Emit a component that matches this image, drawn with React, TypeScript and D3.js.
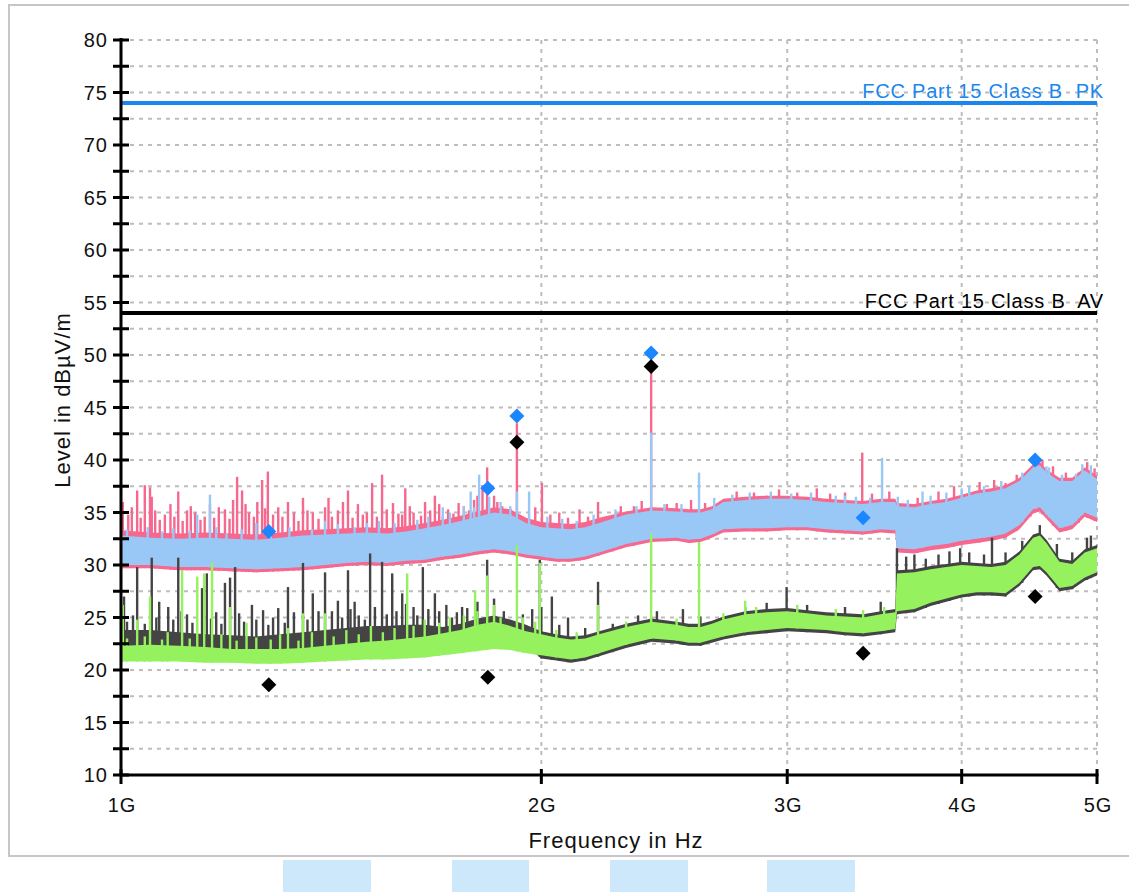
import React from "react";
import * as d3 from "d3";

// ---- data (frequency in GHz, level in dBµV/m) ----
const FREQ_GHZ = [
  1.0, 1.05, 1.1, 1.15, 1.2, 1.25, 1.3, 1.35, 1.4, 1.45, 1.5, 1.55, 1.6, 1.65, 1.7, 1.75, 1.8, 1.85, 1.9, 1.95, 2.0, 2.05, 2.1, 2.15, 2.2,
  2.3, 2.4, 2.5, 2.55, 2.6, 2.65, 2.7,
  2.8, 2.9, 3.0, 3.1, 3.2, 3.3, 3.4, 3.5,
  3.585, 3.595,
  3.7, 3.8, 3.9, 4.0, 4.1, 4.2, 4.3, 4.4,
  4.5, 4.55, 4.6, 4.7, 4.8, 4.9, 5.0,
];

// Peak trace 1 (pink) envelope
const PINK_LOW = [
  29.7, 29.7, 29.5, 29.5, 29.4, 29.3, 29.4, 29.5, 29.7, 29.9, 30.0, 29.9, 30.1, 30.2, 30.5, 30.7, 31.0, 31.2, 31.0, 30.7, 30.5, 30.3, 30.3, 30.5, 30.9,
  31.7, 32.2, 32.3, 32.1, 32.2, 32.6, 33.1,
  33.2, 33.2, 33.3, 33.3, 33.1, 33.0, 32.9, 33.1,
  33.0, 31.2,
  31.1, 31.4, 31.6, 31.9, 32.1, 32.3, 32.6, 33.4,
  34.9, 35.1, 34.4, 33.1, 33.4, 34.6, 34.1,
];
const PINK_HIGH = [
  33.3, 33.1, 33.0, 33.1, 33.0, 32.9, 33.1, 33.3, 33.4, 33.5, 33.6, 33.5, 33.7, 34.0, 34.3, 34.7, 35.1, 35.5, 35.3, 34.5, 34.1, 34.0, 33.9, 34.1, 34.5,
  35.1, 35.5, 35.4, 35.3, 35.3, 35.6, 36.3,
  36.5, 36.6, 36.6, 36.5, 36.3, 36.2, 36.1, 36.3,
  36.3, 35.9,
  35.8, 36.1, 36.3, 36.7, 37.1, 37.3, 37.6, 38.3,
  39.6, 39.8, 39.1, 38.3, 38.3, 39.3, 38.5,
];
// Peak trace 2 (light blue) envelope
const BLUE_LOW = [
  30.0, 30.0, 29.8, 29.8, 29.7, 29.6, 29.7, 29.8, 30.0, 30.2, 30.3, 30.2, 30.4, 30.5, 30.8, 31.0, 31.3, 31.5, 31.3, 31.0, 30.8, 30.6, 30.6, 30.8, 31.2,
  32.0, 32.5, 32.6, 32.4, 32.5, 32.9, 33.4,
  33.5, 33.5, 33.6, 33.6, 33.4, 33.3, 33.2, 33.4,
  33.3, 31.6,
  31.5, 31.8, 32.0, 32.3, 32.5, 32.7, 33.0, 33.8,
  35.3, 35.5, 34.8, 33.5, 33.8, 35.0, 34.5,
];
const BLUE_HIGH = [
  32.8, 32.6, 32.5, 32.6, 32.5, 32.4, 32.6, 32.8, 32.9, 33.0, 33.1, 33.0, 33.2, 33.5, 33.8, 34.2, 34.6, 35.0, 34.8, 34.0, 33.6, 33.5, 33.4, 33.6, 34.0,
  34.8, 35.2, 35.1, 35.0, 35.0, 35.3, 36.0,
  36.2, 36.3, 36.3, 36.2, 36.0, 35.9, 35.8, 36.0,
  36.0, 35.6,
  35.5, 35.8, 36.0, 36.4, 36.8, 37.0, 37.3, 38.0,
  39.3, 39.5, 38.8, 38.0, 38.0, 39.0, 38.2,
];
// Average trace 1 (dark grey) envelope
const GRAY_LOW = [
  21.6, 21.6, 21.6, 21.6, 21.5, 21.4, 21.5, 21.6, 21.8, 22.0, 22.0, 22.0, 22.2, 22.3, 22.5, 22.6, 22.8, 22.8, 22.6, 22.4, 21.1, 20.9, 20.7, 20.9, 21.3,
  22.1, 22.7, 22.5, 22.3, 22.3, 22.6, 22.9,
  23.3, 23.5, 23.7, 23.6, 23.5, 23.3, 23.2, 23.4,
  23.6, 25.3,
  25.5, 26.1, 26.5, 26.9, 27.1, 27.1, 27.0, 28.0,
  29.5, 29.6, 29.0, 27.5, 27.7, 28.5, 29.0,
];
const GRAY_HIGH = [
  23.8, 23.8, 23.6, 23.4, 23.3, 23.2, 23.4, 23.6, 23.8, 24.0, 24.2, 24.2, 24.3, 24.3, 24.1, 24.4, 24.9, 25.2, 24.8, 24.3, 23.7, 23.4, 23.2, 23.3, 23.7,
  24.4, 24.9, 24.6, 24.4, 24.4, 24.7, 25.1,
  25.6, 25.8, 25.9, 25.7, 25.5, 25.4, 25.3, 25.6,
  25.8, 29.5,
  29.6, 29.9, 30.1, 30.3, 30.2, 30.1, 30.3, 31.3,
  32.9, 33.1, 32.4, 30.6, 30.4, 31.5, 31.9,
];
// Average trace 2 (green) envelope
const GREEN_LOW = [
  20.8, 20.8, 20.8, 20.7, 20.7, 20.6, 20.6, 20.7, 20.8, 20.9, 21.0, 21.0, 21.1, 21.2, 21.4, 21.6, 21.8, 22.0, 21.9, 21.6, 21.4, 21.2, 21.0, 21.2, 21.6,
  22.4, 23.0, 22.8, 22.6, 22.6, 22.9, 23.2,
  23.6, 23.8, 24.0, 23.9, 23.8, 23.6, 23.5, 23.7,
  23.9, 25.6,
  25.8, 26.4, 26.8, 27.2, 27.4, 27.4, 27.3, 28.3,
  29.8, 29.9, 29.3, 27.8, 28.0, 28.8, 29.3,
];
const GREEN_HIGH = [
  22.3, 22.4, 22.3, 22.2, 22.0, 22.0, 22.0, 22.1, 22.3, 22.5, 22.7, 22.8, 23.0, 23.2, 23.5, 23.8, 24.3, 24.6, 24.2, 23.7, 23.4, 23.1, 22.9, 23.0, 23.4,
  24.1, 24.6, 24.3, 24.1, 24.1, 24.4, 24.8,
  25.3, 25.5, 25.6, 25.4, 25.2, 25.1, 25.0, 25.3,
  25.5, 29.2,
  29.3, 29.6, 29.8, 30.0, 29.9, 29.8, 30.0, 31.0,
  32.6, 32.8, 32.1, 30.3, 30.1, 31.2, 31.6,
];

// Narrow peaks above the envelopes: [frequency GHz, level]
const PINK_SPIKES: [number, number][] = [
  [1.003, 36.0], [1.027, 37.1], [1.04, 37.6], [1.049, 37.4], [1.052, 36.5], [1.075, 34.8], [1.099, 37.0], [1.115, 35.2],
  [1.13, 35.0], [1.148, 34.6], [1.175, 35.5], [1.187, 35.3], [1.211, 38.4], [1.221, 37.1], [1.235, 35.0], [1.262, 38.1],
  [1.274, 38.9], [1.285, 34.8], [1.296, 35.5], [1.317, 36.0], [1.35, 36.4], [1.372, 35.0], [1.4, 35.5], [1.416, 34.6],
  [1.442, 36.0], [1.454, 37.1], [1.478, 35.8], [1.49, 34.8], [1.513, 37.8], [1.538, 38.6], [1.566, 35.9], [1.58, 34.9],
  [1.598, 37.3], [1.62, 35.0], [1.651, 36.0], [1.678, 36.6], [1.7, 34.6], [1.76, 35.6], [1.8, 36.6], [1.829, 39.3],
  [1.86, 36.0], [1.921, 43.5], [1.98, 35.5], [2.002, 37.8], [2.06, 35.0], [2.196, 36.0], [2.25, 34.6], [2.397, 48.6],
  [2.46, 35.8], [2.9, 36.6], [3.395, 40.7], [4.3, 37.8], [4.48, 38.9], [4.85, 38.8],
  [1.012, 34.8], [1.018, 35.5], [1.033, 34.5], [1.058, 35.2], [1.066, 34.3], [1.085, 35.8], [1.092, 34.6], [1.107, 34.2],
  [1.122, 35.6], [1.14, 34.3], [1.158, 35.8], [1.166, 34.5], [1.196, 34.4], [1.203, 36.2], [1.228, 35.8], [1.245, 34.6],
  [1.252, 36.0], [1.268, 35.4], [1.305, 34.6], [1.33, 35.0], [1.34, 34.2], [1.36, 35.2], [1.385, 34.4], [1.408, 36.4],
  [1.43, 35.2], [1.465, 34.5], [1.5, 35.0], [1.525, 34.6], [1.55, 35.3], [1.59, 34.8], [1.61, 35.6], [1.64, 34.7],
  [1.665, 35.2], [1.69, 35.8], [1.715, 35.3], [1.73, 34.9], [1.745, 35.9], [1.775, 35.2], [1.79, 36.2], [1.815, 37.6],
  [1.85, 36.6], [1.875, 35.6], [1.9, 35.4],
  [2.03, 34.8], [2.09, 34.5], [2.13, 35.3], [2.16, 34.6], [2.28, 35.6], [2.33, 35.6], [2.36, 36.1], [2.5, 35.9],
  [2.56, 36.2], [2.62, 35.9], [2.76, 37.0], [2.84, 36.9], [2.96, 37.2], [3.05, 36.9], [3.15, 37.3], [3.22, 36.8],
  [3.3, 36.9], [3.45, 36.8], [3.55, 37.0], [3.72, 36.4], [3.85, 37.0], [3.95, 37.5], [4.12, 37.9], [4.22, 38.1],
  [4.38, 38.6], [4.57, 40.0], [4.65, 39.4], [4.75, 38.8], [4.92, 39.8], [4.98, 39.2],
];
const BLUE_SPIKES: [number, number][] = [
  [1.134, 34.8], [1.158, 36.7], [1.25, 34.0], [1.4, 34.2], [1.5, 34.0], [1.7, 35.5], [1.78, 37.0], [1.805, 38.6],
  [1.835, 36.5], [1.921, 37.0], [1.96, 37.0], [2.397, 42.6], [2.594, 38.8], [3.3, 36.6], [3.508, 40.2], [3.75, 37.0],
  [4.05, 37.5], [4.6, 39.4], [4.95, 39.5],
  [1.01, 33.4], [1.045, 33.6], [1.07, 33.2], [1.09, 33.5], [1.12, 33.3], [1.17, 33.6], [1.19, 33.0], [1.22, 33.4],
  [1.28, 33.5], [1.32, 33.6], [1.37, 33.4], [1.43, 33.9], [1.47, 33.6], [1.53, 34.2], [1.57, 34.0], [1.63, 34.3],
  [1.66, 34.6], [1.72, 35.0], [1.76, 35.6], [1.79, 35.5], [1.87, 36.0], [1.9, 35.6], [2.02, 34.6], [2.07, 34.4],
  [2.12, 34.2], [2.18, 34.8], [2.26, 35.3], [2.34, 35.6], [2.45, 35.8], [2.52, 35.8], [2.66, 36.4], [2.74, 36.7],
  [2.82, 36.9], [2.92, 37.0], [3.02, 36.8], [3.12, 36.9], [3.25, 36.6], [3.36, 36.5], [3.44, 36.4], [3.6, 36.5],
  [3.66, 36.2], [3.8, 36.6], [3.9, 36.9], [4.0, 37.3], [4.15, 37.5], [4.27, 38.0], [4.42, 38.8], [4.52, 40.0],
  [4.62, 39.3], [4.72, 38.6], [4.83, 38.7], [4.88, 39.6],
];
const GRAY_SPIKES: [number, number][] = [
  [1.005, 27.0], [1.027, 29.8], [1.052, 30.7], [1.065, 26.5], [1.081, 26.0], [1.099, 30.7], [1.115, 25.3], [1.143, 27.8],
  [1.152, 29.2], [1.17, 25.5], [1.187, 28.3], [1.197, 28.8], [1.207, 29.8], [1.241, 26.2], [1.264, 25.7], [1.296, 25.9],
  [1.317, 27.9], [1.35, 30.2], [1.372, 27.3], [1.4, 29.3], [1.416, 25.6], [1.43, 26.6], [1.454, 29.5], [1.47, 26.5],
  [1.508, 31.1], [1.538, 30.3], [1.564, 29.2], [1.59, 27.3], [1.62, 26.0], [1.645, 29.8], [1.678, 27.3], [1.726, 25.0],
  [1.755, 26.0], [1.829, 30.5], [1.995, 30.5], [2.035, 27.0], [2.09, 25.0], [2.196, 28.4], [2.346, 25.2], [2.526, 25.8],
  [2.799, 26.0], [2.997, 27.9], [3.595, 31.6], [3.99, 31.6], [4.205, 32.6], [4.918, 32.6],
  [1.01, 24.6], [1.02, 25.2], [1.04, 24.4], [1.06, 25.0], [1.09, 24.8], [1.105, 25.6], [1.125, 24.5], [1.16, 24.9],
  [1.18, 24.4], [1.215, 25.4], [1.225, 24.6], [1.25, 24.8], [1.275, 24.3], [1.285, 25.0], [1.31, 24.5], [1.33, 25.5],
  [1.36, 24.8], [1.385, 25.6], [1.44, 25.0], [1.46, 25.8], [1.48, 25.2], [1.495, 24.8], [1.52, 26.0], [1.55, 25.3],
  [1.575, 25.6], [1.6, 26.3], [1.63, 25.2], [1.66, 25.8], [1.69, 25.6], [1.71, 26.2], [1.74, 25.5], [1.77, 25.9],
  [1.8, 26.5], [1.85, 26.8], [1.88, 25.6], [1.94, 25.3], [1.97, 25.8], [2.0, 26.0], [2.06, 24.3],
  [2.15, 24.0], [2.25, 24.4], [2.42, 25.6], [2.6, 25.1], [2.9, 26.4], [3.1, 26.2], [3.3, 26.0], [3.5, 26.5],
  [3.65, 30.8], [3.7, 31.0], [3.77, 30.6], [3.85, 31.0], [3.92, 31.3], [4.05, 31.2], [4.15, 31.0], [4.3, 31.2],
  [4.42, 32.3], [4.55, 33.8], [4.68, 32.0], [4.8, 31.2], [4.95, 32.8],
];
const GREEN_SPIKES: [number, number][] = [
  [1.003, 26.2], [1.027, 24.8], [1.049, 27.0], [1.106, 29.5], [1.134, 28.9], [1.147, 29.2], [1.162, 30.2], [1.197, 26.0],
  [1.23, 24.5], [1.317, 24.0], [1.35, 25.4], [1.4, 25.4], [1.603, 29.2], [1.793, 27.6], [1.829, 29.0], [1.921, 31.9],
  [1.995, 30.2], [2.196, 26.2], [2.397, 33.0], [2.594, 32.2], [2.799, 26.6],
  [1.01, 23.0], [1.04, 23.2], [1.07, 22.9], [1.08, 23.6], [1.12, 23.0], [1.18, 23.4], [1.21, 22.8], [1.25, 23.1],
  [1.28, 22.9], [1.3, 23.4], [1.34, 22.8], [1.37, 23.6], [1.42, 23.2], [1.45, 23.8], [1.48, 23.4], [1.51, 24.2],
  [1.54, 23.6], [1.57, 24.0], [1.62, 24.2], [1.65, 24.8], [1.69, 24.5], [1.72, 25.0], [1.76, 25.2], [1.8, 25.6],
  [1.85, 26.2], [1.87, 25.0], [1.94, 25.0], [1.98, 24.6], [2.05, 23.8], [2.12, 23.6], [2.3, 24.6], [2.5, 24.9],
  [2.7, 25.4], [2.85, 26.0], [3.05, 26.2], [3.25, 25.8], [3.4, 25.7], [3.52, 26.0],
];

// Final measurement markers
const MARK_FREQ_GHZ = [1.276, 1.831, 1.921, 2.397, 3.4, 4.515];
const MARK_PK = [33.2, 37.3, 44.2, 50.2, 34.5, 40.0];
const MARK_AV = [18.6, 19.3, 41.7, 48.9, 21.6, 27.0];

// Limits
const LIMIT_PK = 74;
const LIMIT_AV = 54;
const LIMIT_PK_LABEL = "FCC Part 15 Class B  PK";
const LIMIT_AV_LABEL = "FCC Part 15 Class B  AV";

// Axes
const X_TICKS_GHZ = [1, 2, 3, 4, 5];
const X_TICK_LABELS = ["1G", "2G", "3G", "4G", "5G"];
const Y_MIN = 10;
const Y_MAX = 80;
const X_TITLE = "Frequency in Hz";
const Y_TITLE = "Level in dBµV/m";

const FONT = "'Liberation Sans', Arial, sans-serif";

export default function App() {
  const left = 121, right = 1097, top = 40, bottom = 775;
  const x = d3.scaleLog().domain([1e9, 5e9]).range([left, right]);
  const y = d3.scaleLinear().domain([Y_MIN, Y_MAX]).range([bottom, top]);
  const fx = (g: number) => x(g * 1e9);

  const band = (lo: number[], hi: number[]) =>
    d3
      .area<number>()
      .x((g) => fx(g))
      .y0((_, i) => y(lo[i]))
      .y1((_, i) => y(hi[i]))(FREQ_GHZ) || "";

  const spikes = (list: [number, number][], lo: number[], color: string, key: string) => {
    const base = d3.scaleLinear().domain(FREQ_GHZ).range(lo);
    return list.map(([g, v], i) => (
      <line
        key={key + i}
        x1={fx(g)}
        x2={fx(g)}
        y1={y(base(g))}
        y2={y(v)}
        stroke={color}
        strokeWidth={2.4}
      />
    ));
  };

  const yTicks = d3.range(Y_MIN, Y_MAX + 0.01, 2.5);
  const gridColor = "#bdbdbd";
  const diamond = (cx: number, cy: number, r: number) =>
    `M${cx},${cy - r}L${cx + r},${cy}L${cx},${cy + r}L${cx - r},${cy}Z`;

  const PINK = "#f7688f";
  const BLUE = "#99c8f6";
  const GRAY = "#444444";
  const GREEN = "#95f25e";

  return (
    <svg
      width={1129}
      height={892}
      style={{ position: "absolute", left: 0, top: 0, background: "#fff" }}
      fontFamily={FONT}
    >
      <rect x={0} y={0} width={1129} height={892} fill="#fff" />
      {/* frame */}
      <rect x={9} y={5} width={1130} height={851} fill="none" stroke="#c6c6c6" strokeWidth={2} />
      {/* decorative tabs below */}
      <rect x={283} y={860} width={88} height={32} fill="#cde7fb" />
      <rect x={452} y={860} width={77} height={32} fill="#cde7fb" />
      <rect x={610} y={860} width={78} height={32} fill="#cde7fb" />
      <rect x={767} y={860} width={88} height={32} fill="#cde7fb" />

      {/* grid */}
      {yTicks
        .filter((v) => v > Y_MIN)
        .map((v) => (
          <line key={"gy" + v} x1={left} x2={right} y1={y(v)} y2={y(v)} stroke={gridColor} strokeWidth={2} strokeDasharray="4 5" />
        ))}
      {X_TICKS_GHZ.slice(1).map((g) => (
        <line key={"gx" + g} x1={fx(g)} x2={fx(g)} y1={top} y2={bottom} stroke={gridColor} strokeWidth={2} strokeDasharray="4 5" />
      ))}

      {/* limit lines */}
      <line x1={left} x2={right} y1={y(LIMIT_PK)} y2={y(LIMIT_PK)} stroke="#1a86f0" strokeWidth={4} />
      <line x1={left} x2={right} y1={y(LIMIT_AV)} y2={y(LIMIT_AV)} stroke="#000" strokeWidth={4} />
      <text x={1104} y={y(LIMIT_PK) - 5} textAnchor="end" fontSize={20} letterSpacing={0.8} fill="#1a86f0" style={{ whiteSpace: "pre" }}>
        {LIMIT_PK_LABEL}
      </text>
      <text x={1104} y={y(LIMIT_AV) - 5} textAnchor="end" fontSize={20} letterSpacing={0.8} fill="#000" style={{ whiteSpace: "pre" }}>
        {LIMIT_AV_LABEL}
      </text>

      {/* traces */}
      <path d={band(PINK_LOW, PINK_HIGH)} fill={PINK} />
      {spikes(PINK_SPIKES, PINK_LOW, PINK, "ps")}
      <path d={band(BLUE_LOW, BLUE_HIGH)} fill={BLUE} />
      {spikes(BLUE_SPIKES, BLUE_LOW, BLUE, "bs")}
      <path d={band(GRAY_LOW, GRAY_HIGH)} fill={GRAY} />
      {spikes(GRAY_SPIKES, GRAY_LOW, GRAY, "gs")}
      <path d={band(GREEN_LOW, GREEN_HIGH)} fill={GREEN} />
      {spikes(GREEN_SPIKES, GREEN_LOW, GREEN, "ns")}

      {/* markers */}
      {MARK_FREQ_GHZ.map((g, i) => (
        <path key={"mp" + i} d={diamond(fx(g), y(MARK_PK[i]), 7.5)} fill="#1a86ff" />
      ))}
      {MARK_FREQ_GHZ.map((g, i) => (
        <path key={"ma" + i} d={diamond(fx(g), y(MARK_AV[i]), 7.5)} fill="#000" />
      ))}

      {/* axes */}
      <line x1={left} x2={left} y1={top - 2} y2={bottom} stroke="#000" strokeWidth={3} />
      <line x1={left - 1.5} x2={right + 1.5} y1={bottom} y2={bottom} stroke="#000" strokeWidth={3} />
      {yTicks.map((v) => (
        <line key={"ty" + v} x1={left - 8} x2={left + 8} y1={y(v)} y2={y(v)} stroke="#000" strokeWidth={3} />
      ))}
      {yTicks
        .filter((v) => v % 5 === 0)
        .map((v) => (
          <text key={"ly" + v} x={108} y={y(v)} dy="0.36em" textAnchor="end" fontSize={20} letterSpacing={1} fill="#111">
            {v}
          </text>
        ))}
      {X_TICKS_GHZ.map((g, i) => (
        <g key={"tx" + g}>
          <line x1={fx(g)} x2={fx(g)} y1={bottom - 6} y2={bottom + 9} stroke="#000" strokeWidth={3} />
          <text x={fx(g) + 1} y={812} textAnchor="middle" fontSize={20} letterSpacing={1} fill="#111">
            {X_TICK_LABELS[i]}
          </text>
        </g>
      ))}
      <text x={616} y={848} textAnchor="middle" fontSize={22} letterSpacing={1} fill="#111">
        {X_TITLE}
      </text>
      <text
        transform={`translate(70, 400) rotate(-90)`}
        textAnchor="middle"
        fontSize={22}
        letterSpacing={1}
        fill="#111"
      >
        {Y_TITLE}
      </text>
    </svg>
  );
}
